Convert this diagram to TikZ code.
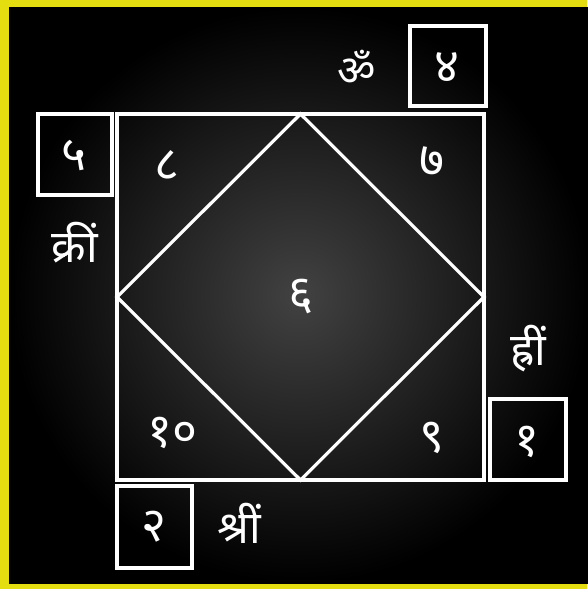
\documentclass[tikz,border=0pt]{standalone}
\usepackage{fontspec}
\newfontfamily\deva[Script=Devanagari]{Noto Sans}
\definecolor{frameyellow}{RGB}{228,222,16}
\definecolor{centergray}{RGB}{66,66,66}
\tikzset{
  line/.style={draw=white, line width=3.2pt},
  numtext/.style={text=white, font=\deva\fontsize{48}{56}\selectfont, inner sep=0pt},
  bijtext/.style={text=white, font=\deva\fontsize{45}{52}\selectfont, inner sep=0pt},
  omtext/.style={text=white, font=\deva\fontsize{42}{50}\selectfont, inner sep=0pt},
}
\begin{document}
\begin{tikzpicture}[x=1pt,y=-1pt]
\useasboundingbox (0,0) rectangle (587,589);
\fill[frameyellow] (0,0) rectangle (587,589);
\shade[inner color=centergray, outer color=black] (9,7) rectangle (590,583);
% main square and diamond
\coordinate (tl) at (117,114);
\coordinate (br) at (484,480);
\coordinate (mt) at (300.5,114);
\coordinate (mr) at (484,297);
\coordinate (mb) at (300.5,480);
\coordinate (ml) at (117,297);
\draw[line] (tl) rectangle (br);
\draw[line, line join=miter] (mt) -- (mr) -- (mb) -- (ml) -- cycle;
% small boxes
\draw[line] (410,26) rectangle (486,106);
\draw[line] (38,114) rectangle (112,195);
\draw[line] (490,399) rectangle (566,480);
\draw[line] (117,486) rectangle (192,568);
\node[numtext] (b4) at (447,68) {४};
\node[numtext] (b5) at (74,156) {५};
\node[numtext] (b1) at (527,442) {१};
\node[numtext] (b2) at (154,527) {२};
% house numbers
\node[numtext] (n8) at (167,166) {८};
\node[numtext] (n7) at (432,162) {७};
\node[numtext] (n6) at (301,297) {६};
\node[numtext] (n10) at (172,433) {१०};
\node[numtext] (n9) at (432,438) {९};
% mantras
\node[omtext] (om) at (357,68) {ॐ};
\node[bijtext] (kreem) at (75,243) {क्रीं};
\node[bijtext] (hreem) at (528,349) {ह्रीं};
\node[bijtext] (shreem) at (239,523) {श्रीं};
\end{tikzpicture}
\end{document}
